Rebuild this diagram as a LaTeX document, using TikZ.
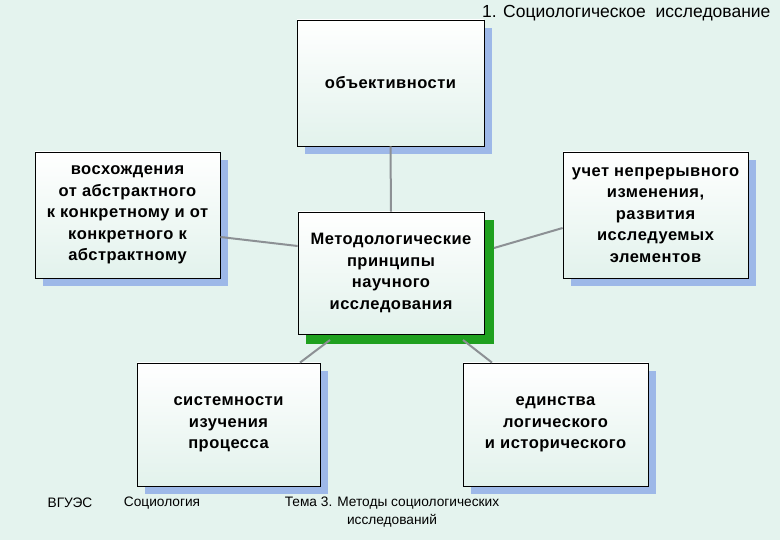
\documentclass[tikz,border=0pt]{standalone}
\usepackage{fontspec}
\setmainfont{Liberation Sans}
\definecolor{bg}{HTML}{E4F3EE}
\definecolor{boxin}{HTML}{E2F2EC}
\definecolor{shb}{HTML}{9DB8E8}
\definecolor{shg}{HTML}{1FA01F}
\definecolor{ln}{HTML}{8C9094}
\begin{document}
\begin{tikzpicture}[x=1pt,y=-1pt,
  box/.style={draw=black,line width=0.8pt,top color=white,bottom color=boxin,shading angle=0,
    align=center,font=\fontsize{16.5}{21.5}\selectfont\bfseries\addfontfeatures{LetterSpace=3},inner sep=2pt},
  conn/.style={draw=ln,line width=2pt},
  small/.style={font=\fontsize{13.7}{18}\selectfont,align=center}]
\useasboundingbox[fill=bg] (0,0) rectangle (780,540);
% shadows
\fill[shb] (305,28) rectangle (492,154);
\fill[shb] (43,160) rectangle (228,286);
\fill[shb] (571,160) rectangle (756,286);
\fill[shg] (306,220) rectangle (494,344);
\fill[shb] (145,371) rectangle (328,494);
\fill[shb] (471,371) rectangle (656,494);
% boxes
\node[box,minimum width=187pt,minimum height=126pt] (top) at (390.5,83) {объективности};
\node[box,minimum width=185pt,minimum height=126pt] (left) at (127.5,215) {восхождения\\от абстрактного\\к конкретному и от\\конкретного к\\абстрактному};
\node[box,minimum width=185pt,minimum height=126pt] (right) at (655.5,215) {учет непрерывного\\изменения,\\развития\\исследуемых\\элементов};
\node[box,minimum width=186pt,minimum height=122pt] (center) at (391,273) {Методологические\\принципы\\научного\\исследования};
\node[box,minimum width=183pt,minimum height=123pt] (bl) at (228.5,424.5) {системности\\изучения\\процесса};
\node[box,minimum width=185pt,minimum height=123pt] (br) at (555.5,424.5) {единства\\логического\\и исторического};
% connectors
\path[conn] (top.south) -- (center.north);
\path[conn] (left.east |- 0,237) -- (center.west |- 0,246);
\path[conn] (right.west |- 0,228) -- (494,248);
\path[conn] (330,340) -- (bl.north -| 300,0);
\path[conn] (463,340) -- (br.north -| 492,0);
% texts
\node[small,anchor=east,font=\fontsize{17.5}{20}\selectfont] (title) at (774,13) {1. Социологическое\ \ исследование};
\node[small] (f1) at (70,503) {ВГУЭС};
\node[small] (f2) at (162,503) {Социология};
\node[small] (f3) at (392,512) {Тема 3. Методы социологических\\исследований};
\end{tikzpicture}
\end{document}
